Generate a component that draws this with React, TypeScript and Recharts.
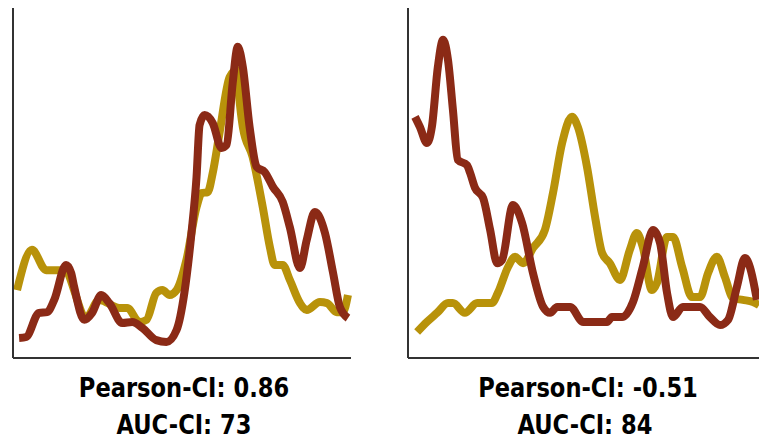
import React from 'react';
import { LineChart, Line, XAxis, YAxis } from 'recharts';

// left panel (Pearson 0.86)
const leftGoldX = [1.2, 5.6, 9.8, 15.1, 21.7, 25.5, 31.5, 33.8, 37.4, 39.5, 42.4, 44.2, 46.3, 48.4, 51.3, 54.3, 55.8, 57.6, 59.1, 61.1, 64.1, 66.2, 66.8, 68, 70.9, 73.9, 76, 77.4, 79.8, 81.9, 84.9, 86.9, 90.8, 92.9, 95.8, 97.6, 99.1];
const leftGoldY = [19.4, 30.9, 25.1, 25.1, 11.7, 16.6, 14.3, 14.3, 10.3, 10.9, 18.6, 19.4, 18, 19.4, 28, 43.1, 47.1, 47.4, 52.9, 64.3, 80.3, 82.3, 75.7, 66, 57.4, 43.1, 31.7, 26.6, 26.6, 22.3, 15.7, 13.7, 16, 15.7, 13.1, 13.1, 18];
const leftRedX = [1.8, 3.9, 7.7, 10.1, 12.2, 15.7, 17.2, 18.1, 21.1, 23.4, 26.1, 28.5, 32.3, 35.3, 38.3, 42.4, 45.4, 48.4, 50.7, 52.8, 54.3, 55.2, 56.7, 59.1, 61.7, 63.2, 65, 66.5, 68, 70, 72.1, 74.5, 76.9, 79.8, 81.9, 84.9, 86.9, 89.3, 92.3, 94.7, 96.7, 99.1];
const leftRedY = [5.7, 6, 12.9, 13.1, 16.6, 26.6, 24.3, 20.3, 10.9, 12.9, 18, 15.7, 10, 10.3, 8.6, 5.1, 4.6, 8, 18.6, 35.7, 51.7, 66.6, 69.4, 67.1, 60, 60.9, 78.6, 88.9, 83.1, 66, 54.6, 53.1, 48.9, 44.6, 37.4, 25.7, 33.7, 41.7, 35.7, 24.3, 14.6, 11.4];

// right panel (Pearson -0.51)
const rightGoldX = [2.6, 5.4, 8.3, 11.4, 12.8, 16.2, 19.7, 23.9, 25.6, 28.5, 30.5, 32.8, 35.6, 39, 41.3, 43.9, 46.7, 48.4, 51, 53.3, 55.3, 57.5, 60.4, 63.2, 65.2, 66.9, 69.5, 70.9, 73.8, 75.5, 78.1, 80.9, 83.2, 85.5, 88, 90.3, 92.6, 95.4, 98.3, 100];
const rightGoldY = [7.4, 10.3, 12.9, 15.7, 15.7, 12.9, 15.7, 15.7, 18.6, 26, 28.9, 27.1, 31.4, 36.6, 47.1, 61.4, 68.9, 66, 54.6, 40.3, 30, 27.1, 22.3, 30.9, 35.7, 31.7, 19.4, 21.4, 34.6, 34.6, 26, 17.4, 17.4, 24.3, 28.9, 23.1, 17.1, 16.6, 16, 15.1];
const rightRedX = [2, 3.4, 5.4, 6.8, 8.5, 10, 11.4, 12.8, 14.2, 16.8, 17.7, 19.1, 21.4, 23.4, 25.4, 26.8, 29.9, 32.5, 35.6, 38.5, 40.5, 42.5, 46.2, 49.9, 56.7, 58.1, 61, 64.1, 66.9, 69.8, 71.8, 73.8, 75.5, 78.3, 83.2, 86, 88.9, 91.2, 93.7, 96, 97.4, 99.4];
const rightRedY = [68.9, 66, 61.4, 66, 83.1, 90.9, 85.1, 70.9, 56.6, 55.1, 52.9, 48.6, 45.7, 36.6, 27.1, 28, 43.7, 38.6, 24.3, 14.6, 12.9, 14.6, 14.6, 10.3, 10.3, 11.7, 11.7, 16, 26, 36.6, 32.9, 18.6, 11.7, 14.6, 14.6, 11.7, 9.4, 10.9, 20.3, 28.6, 26, 16.6];

const labels = [
  ['Pearson-CI: 0.86', 'AUC-CI: 73'],
  ['Pearson-CI: -0.51', 'AUC-CI: 84'],
];

const GOLD = '#b8920a';
const RED = '#8b2a16';

const zip = (xs: number[], ys: number[]) => xs.map((x, i) => ({ x, y: ys[i] }));

function Panel({ gold, red, width, marginRight }: { gold: any[]; red: any[]; width: number; marginRight: number }) {
  return (
    <LineChart width={width} height={370} margin={{ top: 8, right: marginRight, bottom: 0, left: 12 }}>
      <XAxis type="number" dataKey="x" domain={[0, 100]} tick={false} tickLine={false} height={12}
        axisLine={{ stroke: '#333', strokeWidth: 2 }} allowDuplicatedCategory={false} />
      <YAxis type="number" domain={[0, 100]} tick={false} tickLine={false} width={1}
        axisLine={{ stroke: '#333', strokeWidth: 2 }} />
      <Line data={gold} dataKey="y" type="monotone" stroke={GOLD} strokeWidth={8} dot={false} isAnimationActive={false} />
      <Line data={red} dataKey="y" type="monotone" stroke={RED} strokeWidth={8} dot={false} isAnimationActive={false} />
    </LineChart>
  );
}

const textStyle: React.CSSProperties = {
  position: 'absolute',
  width: 300,
  textAlign: 'center',
  fontFamily: "'Liberation Sans Narrow', 'Arial Narrow', 'DejaVu Sans Condensed', sans-serif",
  fontWeight: 'bold',
  fontSize: 27,
  color: '#000',
  lineHeight: '30px',
  transform: 'scaleX(0.93)',
};

export default function App() {
  return (
    <div style={{ position: 'absolute', left: 0, top: 0, width: 759, height: 443, background: '#fff', overflow: 'hidden' }}>
      <div style={{ position: 'absolute', left: 0, top: 0 }}>
        <Panel gold={zip(leftGoldX, leftGoldY)} red={zip(leftRedX, leftRedY)} width={360} marginRight={9} />
      </div>
      <div style={{ position: 'absolute', left: 395, top: 0 }}>
        <Panel gold={zip(rightGoldX, rightGoldY)} red={zip(rightRedX, rightRedY)} width={364} marginRight={0} />
      </div>
      {labels.map((pair, i) => (
        <React.Fragment key={i}>
          <div style={{ ...textStyle, left: (i === 0 ? 184 : 588) - 150, top: 373 }}>{pair[0]}</div>
          <div style={{ ...textStyle, left: (i === 0 ? 184 : 585) - 150, top: 410 }}>{pair[1]}</div>
        </React.Fragment>
      ))}
    </div>
  );
}
